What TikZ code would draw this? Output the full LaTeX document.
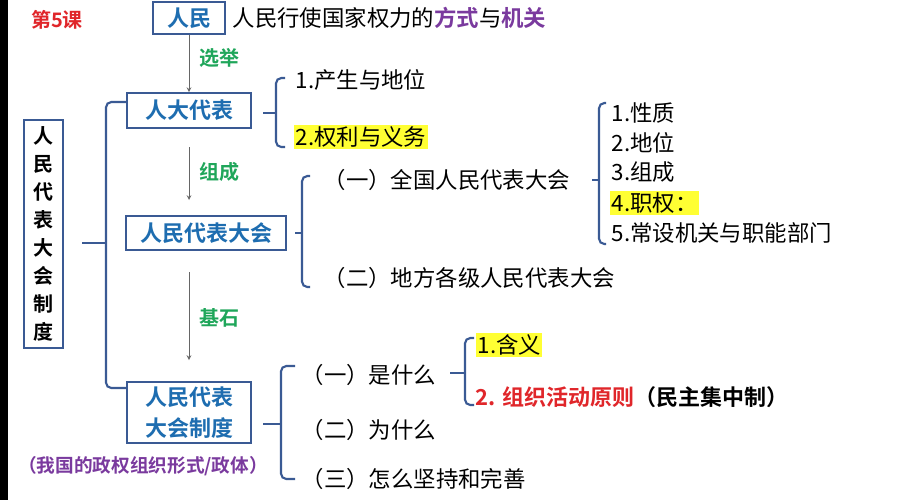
\documentclass[tikz,border=0pt]{standalone}
\usepackage{fontspec}
\setmainfont{Noto Sans CJK SC}
\newfontfamily\cjkb{Noto Sans CJK SC Bold}
\begin{document}
\definecolor{brk}{HTML}{3A5A94}
\definecolor{bt}{HTML}{1E6DB0}
\definecolor{gr}{HTML}{1FA65A}
\definecolor{pu}{HTML}{7A3A9E}
\definecolor{rd}{HTML}{E0262A}
\definecolor{hy}{HTML}{FFFF33}
\begin{tikzpicture}[x=0.75pt,y=-0.75pt,
  box/.style={draw=brk,line width=1.4pt,text=bt,font=\fontsize{16.5}{20}\selectfont\cjkb,inner sep=0pt,align=center},
  br/.style={draw=brk,line width=1.6pt,rounded corners=4pt},
  arr/.style={draw=gray!80!black,line width=0.6pt,->,>=stealth},
  lab/.style={text=gr,font=\fontsize{15}{17}\selectfont\cjkb},
  txt/.style={font=\fontsize{16.8}{18}\selectfont,anchor=west,inner sep=1pt},
  hl/.style={txt,fill=hy}]
\fill[white] (0,0) rectangle (907,500);
\fill[black] (0,0) rectangle (8,500);
\node[text=rd,font=\fontsize{15}{17}\selectfont\cjkb] (k) at (57,20) {第5课};
\node[box,minimum width=72*0.75pt,minimum height=32*0.75pt] (rm) at (189,18) {人民};
\node[txt] (title) at (231,18) {人民行使国家权力的{\cjkb\color{pu}方式}与{\cjkb\color{pu}机关}};
\node[box,minimum width=124*0.75pt,minimum height=35*0.75pt] (rd) at (189,110.5) {人大代表};
\node[box,minimum width=160*0.75pt,minimum height=34*0.75pt] (rdh) at (206,233) {人民代表大会};
\node[box,minimum width=124*0.75pt,minimum height=61*0.75pt,font=\fontsize{16.5}{23}\selectfont\cjkb] (zd) at (189,412.5) {人民代表\\大会制度};
\node[draw=brk,line width=1.4pt,minimum width=39*0.75pt,minimum height=228*0.75pt,font=\fontsize{15}{21}\selectfont\cjkb,align=center,inner sep=0pt] (left) at (43.5,234) {人\\民\\代\\表\\大\\会\\制\\度};
\coordinate (a2) at (189,147);
\coordinate (a2e) at (189,200);
\coordinate (a3) at (189,272);
\coordinate (a3e) at (189,360);
\draw[arr] (rm.south) -- (rd.north);
\draw[arr] (a2) -- (a2e);
\draw[arr] (a3) -- (a3e);
\node[lab] (l1) at (219,58) {选举};
\node[lab] (l2) at (219,172) {组成};
\node[lab] (l3) at (219,318) {基石};
% big bracket
\draw[br] (126,102) -- (106,102) -- (106,388) -- (126,388);
\draw[br] (82,243) -- (106,243);
% brace for rd
\draw[br] (285,78) -- (276,78) -- (276,147) -- (285,147);
\draw[br] (263,113) -- (276,113);
\node[txt] (r1) at (294,80) {1.产生与地位};
\node[hl] (r2) at (294,137) {2.权利与义务};
% rdh bracket
\draw[br] (310,176) -- (302,176) -- (302,287) -- (310,287);
\draw[br] (295,233) -- (302,233);
\node[txt] (q1) at (322,180) {（一）全国人民代表大会};
\node[txt] (q2) at (322,278) {（二）地方各级人民代表大会};
% qg bracket
\draw[br] (606,103) -- (599,103) -- (599,244) -- (606,244);
\draw[br] (592,180) -- (599,180);
\node[txt] (p1) at (610,113) {1.性质};
\node[txt] (p2) at (610,143) {2.地位};
\node[txt] (p3) at (610,172) {3.组成};
\node[hl] (p4) at (610,203) {4.职权：};
\node[txt] (p5) at (610,233) {5.常设机关与职能部门};
% zd bracket
\draw[br] (295,366) -- (281,366) -- (281,479) -- (295,479);
\draw[br] (263,424) -- (281,424);
\node[txt] (s1) at (300,375) {（一）是什么};
\node[txt] (s2) at (300,430) {（二）为什么};
\node[txt] (s3) at (300,479) {（三）怎么坚持和完善};
\node[text=pu,font=\fontsize{14}{16}\selectfont\cjkb] (pz) at (143,466) {（我国的政权组织形式/政体）};
% shi shenme brace
\draw[br] (474,338) -- (465,338) -- (465,405) -- (474,405);
\draw[br] (450,373) -- (465,373);
\node[hl] (h1) at (476,345) {1.含义};
\node[txt,font=\fontsize{16.5}{18}\selectfont\cjkb] (h2) at (474,397) {\color{rd}2. 组织活动原则\color{black}（民主集中制）};
\end{tikzpicture}
\end{document}
